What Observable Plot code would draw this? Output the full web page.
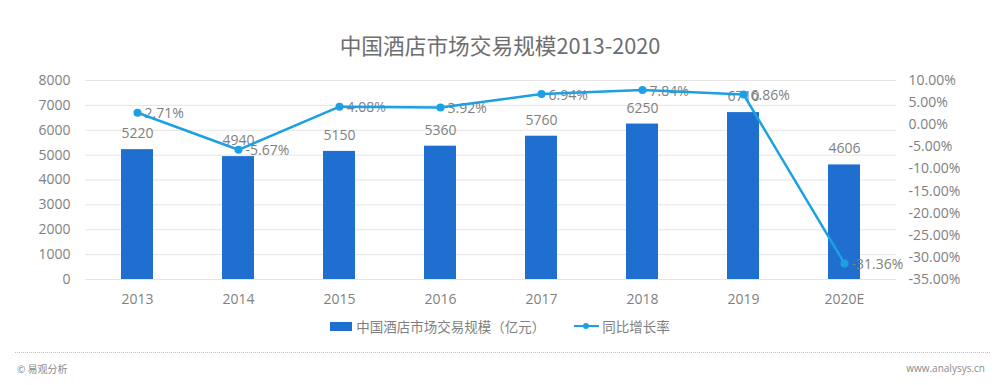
<!DOCTYPE html>
<html>
<head>
<meta charset="utf-8">
<script src="https://cdn.jsdelivr.net/npm/d3@7"></script>
<script src="https://cdn.jsdelivr.net/npm/@observablehq/plot@0.6"></script>
<style>
  html, body { margin: 0; padding: 0; background: #fff; }
  body { width: 1000px; height: 385px; position: relative; overflow: hidden;
         font-family: "Open Sans", "Noto Sans CJK SC", sans-serif; }
  #title { position: absolute; top: 32px; left: 0; width: 1000px; text-align: center;
           font-family: "Noto Sans CJK SC", sans-serif; font-size: 21.7px; line-height: 26px; color: #6e6e6e; }
  #chart { position: absolute; top: 64px; left: 0; }
  #legend { position: absolute; top: 316px; left: 0; width: 1000px; height: 20px;
            display: flex; justify-content: center; align-items: center;
            font-family: "Noto Sans CJK SC", sans-serif; font-size: 13.5px; color: #7f7f7f; }
  .item { display: flex; align-items: center; }
  .sw { width: 22px; height: 9px; background: #1f6fd1; margin-right: 4px; }
  .ln { width: 25px; height: 10px; position: relative; margin-right: 3px; margin-left: 29px; }
  .ln::before { content: ""; position: absolute; left: 0; right: 0; top: 4px; height: 2px; background: #1ca0e3; }
  .ln::after { content: ""; position: absolute; left: 9px; top: 2px; width: 6px; height: 6px; border-radius: 3px; background: #1ca0e3; }
  #rule { position: absolute; top: 352px; left: 15px; width: 975px; border-top: 1px dotted #bdbdbd; }
  #src { position: absolute; top: 361px; left: 17px; font-family: "Noto Sans CJK SC", sans-serif; font-size: 10px; color: #8a8a8a; }
  #url { position: absolute; top: 361px; right: 15px; font-size: 10px; color: #8a8a8a; }
</style>
</head>
<body>
<div id="title">中国酒店市场交易规模2013-2020</div>
<div id="chart"></div>
<div id="legend">
  <div class="item"><div class="sw"></div><span>中国酒店市场交易规模（亿元）</span></div>
  <div class="item"><div class="ln"></div><span>同比增长率</span></div>
</div>
<div id="rule"></div>
<div id="src">© 易观分析</div>
<div id="url">www.analysys.cn</div>
<script>
const years = ["2013", "2014", "2015", "2016", "2017", "2018", "2019", "2020E"];
const marketSize = [5220, 4940, 5150, 5360, 5760, 6250, 6710, 4606];
const growthRate = [2.71, -5.67, 4.08, 3.92, 6.94, 7.84, 6.86, -31.36];
const leftTicks = [0, 1000, 2000, 3000, 4000, 5000, 6000, 7000, 8000];
const rightTicks = [10, 5, 0, -5, -10, -15, -20, -25, -30, -35];

// map the right (percent) axis [-35, 10] onto the left scale [0, 8000]
const toLeft = p => (p + 35) / 45 * 8000;
const rightLabel = new Map(rightTicks.map(p => [toLeft(p), p.toFixed(2) + "%"]));

const data = years.map((year, i) => ({year, value: marketSize[i], growth: growthRate[i]}));

const gray = "#7f7f7f";
const barColor = "#1f6fd1";
const lineColor = "#1ca0e3";

const chart = Plot.plot({
  width: 1000,
  height: 248,
  marginTop: 16,
  marginBottom: 33,
  marginLeft: 85,
  marginRight: 104,
  style: {fontFamily: "'Open Sans', 'Noto Sans CJK SC', sans-serif", fontSize: "14px", color: gray, background: "transparent"},
  x: {domain: years, paddingInner: 0.68, paddingOuter: 0.34, axis: null},
  y: {domain: [0, 8000], axis: null},
  marks: [
    Plot.ruleY(leftTicks, {stroke: "#e4e4e4", strokeWidth: 1}),
    Plot.axisX({tickSize: 0, tickPadding: 15, fontSize: 14, label: null}),
    Plot.axisY(leftTicks, {anchor: "left", tickSize: 0, tickPadding: 15, fontSize: 14, label: null,
      tickFormat: d => String(d)}),
    Plot.axisY(rightTicks.map(toLeft), {anchor: "right", tickSize: 0, tickPadding: 12, fontSize: 14, label: null,
      tickFormat: d => rightLabel.get(d)}),
    Plot.barY(data, {x: "year", y: "value", fill: barColor}),
    Plot.text(data, {x: "year", y: "value", text: d => String(d.value), dy: -16, fill: gray, fontSize: 14}),
    Plot.text(data, {x: "year", y: d => toLeft(d.growth), text: d => d.growth.toFixed(2) + "%",
      textAnchor: "start", dx: 7, dy: 1, fill: gray, fontSize: 14}),
    Plot.line(data, {x: "year", y: d => toLeft(d.growth), stroke: lineColor, strokeWidth: 2.5}),
    Plot.dot(data, {x: "year", y: d => toLeft(d.growth), r: 4, fill: lineColor, stroke: "none"})
  ]
});
document.getElementById("chart").appendChild(chart);
</script>
</body>
</html>
